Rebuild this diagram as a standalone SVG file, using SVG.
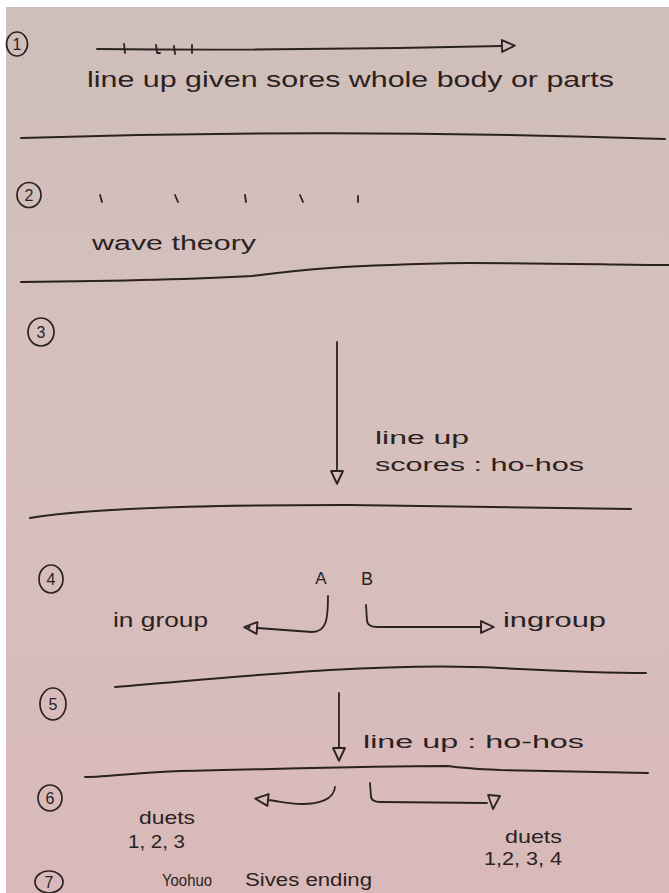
<svg xmlns="http://www.w3.org/2000/svg" width="669" height="893" viewBox="0 0 669 893">
  <defs>
    <linearGradient id="paper" x1="0" y1="0" x2="0" y2="1">
      <stop offset="0" stop-color="#cfbeb9"/>
      <stop offset="0.5" stop-color="#d6c0bd"/>
      <stop offset="1" stop-color="#d9b9b9"/>
    </linearGradient>
    <marker id="tri" viewBox="0 0 20 20" refX="3" refY="10" markerWidth="17" markerHeight="17" markerUnits="userSpaceOnUse" orient="auto">
      <path d="M3,3 L18,10 L3,17 Z" fill="none" stroke="#2a2222" stroke-width="2.2" stroke-linejoin="round"/>
    </marker>
    <style>
      .ink { fill: none; stroke: #2a2222; stroke-width: 1.8; stroke-linecap: round; stroke-linejoin: round; }
      .sep { fill: none; stroke: #2a2222; stroke-width: 2; stroke-linecap: round; }
      .num { fill: none; stroke: #2a2222; stroke-width: 1.7; }
      .t { font-family: "Liberation Sans", "DejaVu Sans", sans-serif; fill: #2a2222; }
      .d { font-family: "Liberation Sans", "DejaVu Sans", sans-serif; fill: #2a2222; font-size: 16px; text-anchor: middle; }
    </style>
  </defs>

  <rect x="0" y="0" width="669" height="893" fill="url(#paper)"/>
  <rect x="0" y="0" width="669" height="7" fill="#ffffff"/>
  <rect x="0" y="0" width="6" height="893" fill="#ffffff"/>

  <!-- separators -->
  <g id="separators">
    <path class="sep" d="M21,138 Q341,128 665,139"/>
    <path class="sep" d="M21,282 C120,281 200,279 252,276 C300,270 340,265 469,263 C560,263 620,265 669,265"/>
    <path class="sep" d="M30,518 C90,508 200,505 341,505 C450,506 560,508 631,509"/>
    <path class="sep" d="M115,687 C200,680 260,674 330,670 C400,666 448,665 500,668 C560,671 610,673 646,673"/>
    <path class="sep" d="M85,777 C110,777 140,772 180,771 C280,769 360,766 448,766 C470,769 480,769 500,770 C560,771 610,772 648,773"/>
  </g>

  <!-- section number circles -->
  <g id="n1"><ellipse class="num" cx="17" cy="44" rx="10.5" ry="12"/><text class="d" x="17" y="50">1</text></g>
  <g id="n2"><ellipse class="num" cx="29" cy="195" rx="12" ry="12.5"/><text class="d" x="29" y="201">2</text></g>
  <g id="n3"><ellipse class="num" cx="41" cy="332" rx="13" ry="14"/><text class="d" x="41" y="338">3</text></g>
  <g id="n4"><ellipse class="num" cx="51" cy="579" rx="12" ry="14"/><text class="d" x="51" y="585">4</text></g>
  <g id="n5"><ellipse class="num" cx="53" cy="704" rx="13" ry="16"/><text class="d" x="53" y="710">5</text></g>
  <g id="n6"><ellipse class="num" cx="50" cy="798" rx="12" ry="13"/><text class="d" x="50" y="804">6</text></g>
  <g id="n7"><ellipse class="num" cx="49" cy="882" rx="14" ry="11"/><text class="d" x="49" y="888">7</text></g>

  <!-- connectors -->
  <g id="connectors">
    <path class="ink" d="M97,49 Q300,51 502,46" marker-end="url(#tri)"/>
    <path class="ink" d="M124,44 L125,53 M156,45 L157,53 L160,53 M174,46 L175,54 M192,45 L192,53"/>
    <path class="ink" d="M100,195 L102,202 M175,195 L178,202 M245,195 L246,202 M300,195 L303,202 M358,196 L358,202"/>
    <path class="ink" d="M337,342 L337,471" marker-end="url(#tri)"/>
    <path class="ink" d="M328,596 C328,618 327,632 312,632 L257,628" marker-end="url(#tri)"/>
    <circle cx="249" cy="627" r="1.5" fill="#2a2222"/>
    <path class="ink" d="M366,605 L367,621 Q368,627 377,627 L481,627" marker-end="url(#tri)"/>
    <path class="ink" d="M339,693 L339,748" marker-end="url(#tri)"/>
    <path class="ink" d="M335,787 C334,800 318,804 302,804 C288,804 278,801 268,800" marker-end="url(#tri)"/>
    <path class="ink" d="M370,783 L371,797 Q372,802 380,802 L487,803"/>
    <path class="ink" d="M488,795 L500,796 L493,809 Z" stroke-width="2.2"/>
  </g>

  <!-- labels -->
  <g id="label1"><text class="t" x="87" y="87" font-size="22" textLength="527" lengthAdjust="spacingAndGlyphs">line up given sores whole body or parts</text></g>
  <g id="label2"><text class="t" x="92" y="250" font-size="20" textLength="164" lengthAdjust="spacingAndGlyphs">wave theory</text></g>
  <g id="label3">
    <text class="t" x="375" y="444" font-size="18" textLength="94" lengthAdjust="spacingAndGlyphs">line up</text>
    <text class="t" x="375" y="471" font-size="18" textLength="209" lengthAdjust="spacingAndGlyphs">scores : ho-hos</text>
  </g>
  <g id="nodeA"><text class="t" x="321" y="584" font-size="17" text-anchor="middle">A</text></g>
  <g id="nodeB"><text class="t" x="367" y="585" font-size="18" text-anchor="middle">B</text></g>
  <g id="label4l"><text class="t" x="113" y="627" font-size="21" textLength="95" lengthAdjust="spacingAndGlyphs">in group</text></g>
  <g id="label4r"><text class="t" x="503" y="627" font-size="21" textLength="103" lengthAdjust="spacingAndGlyphs">ingroup</text></g>
  <g id="label5"><text class="t" x="363" y="748" font-size="19" textLength="221" lengthAdjust="spacingAndGlyphs">line up : ho-hos</text></g>
  <g id="label6l">
    <text class="t" x="139" y="824" font-size="19" textLength="56" lengthAdjust="spacingAndGlyphs">duets</text>
    <text class="t" x="128" y="848" font-size="18" textLength="57" lengthAdjust="spacingAndGlyphs">1, 2, 3</text>
  </g>
  <g id="label6r">
    <text class="t" x="505" y="843" font-size="19" textLength="57" lengthAdjust="spacingAndGlyphs">duets</text>
    <text class="t" x="484" y="865" font-size="18" textLength="78" lengthAdjust="spacingAndGlyphs">1,2, 3, 4</text>
  </g>
  <g id="label7">
    <text class="t" x="162" y="886" font-size="17" textLength="50" lengthAdjust="spacingAndGlyphs">Yoohuo</text>
    <text class="t" x="245" y="886" font-size="18" textLength="127" lengthAdjust="spacingAndGlyphs">Sives ending</text>
  </g>
</svg>
